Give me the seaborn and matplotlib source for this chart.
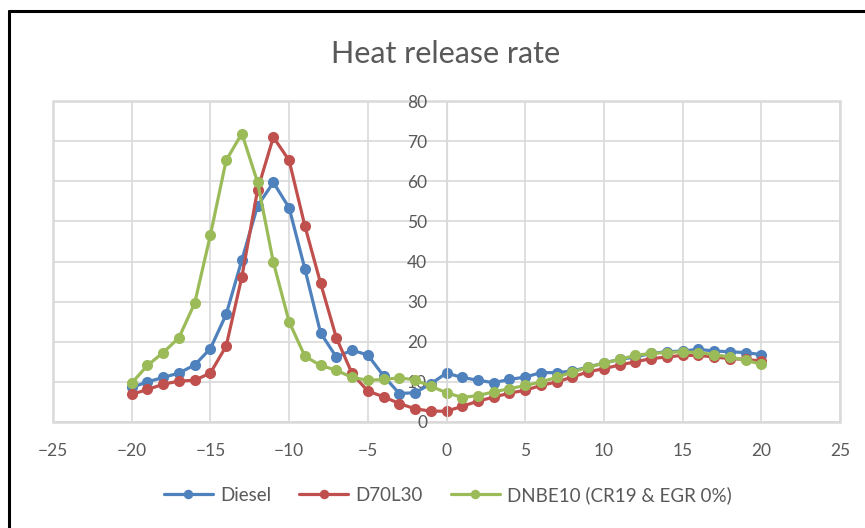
import pandas as pd
import seaborn as sns
import matplotlib.pyplot as plt
from matplotlib.patches import Rectangle
from matplotlib.lines import Line2D

# Crank angle positions (deg)
crank_angle = list(range(-20, 21))

# Heat release rate
diesel = [8.6, 10.0, 11.1, 12.2, 14.2, 18.3, 26.8, 40.4, 53.9, 59.7,
          53.4, 38.2, 22.2, 16.2, 17.9, 16.7, 11.5, 7.1, 7.3, 9.5,
          12.2, 11.1, 10.4, 9.8, 10.6, 11.2, 12.3, 12.3, 12.7, 13.7,
          14.7, 15.6, 16.2, 17.1, 17.5, 17.7, 18.1, 17.7, 17.5, 17.3, 16.8]
d70l30 = [6.9, 8.1, 9.4, 10.2, 10.4, 12.2, 18.9, 36.2, 57.9, 71.0,
          65.2, 48.9, 34.6, 21.0, 12.1, 7.7, 6.3, 4.6, 3.3, 2.7,
          2.7, 3.9, 5.2, 6.2, 7.2, 7.9, 9.1, 10.0, 11.2, 12.5,
          13.3, 14.2, 15.0, 15.8, 16.2, 16.6, 16.6, 16.2, 15.8, 15.6, 15.2]
dnbe10 = [9.7, 14.1, 17.3, 21.0, 29.6, 46.6, 65.2, 71.9, 59.7, 39.8,
          25.0, 16.4, 14.1, 12.9, 11.1, 10.4, 10.6, 11.0, 10.5, 8.9,
          7.3, 6.1, 6.6, 7.5, 8.3, 9.1, 10.0, 11.1, 12.5, 13.6,
          14.7, 15.6, 16.6, 17.1, 17.3, 17.5, 17.3, 16.8, 16.2, 15.4, 14.4]

series_names = ['Diesel', 'D70L30', 'DNBE10 (CR19 & EGR 0%)']
colors = ['#4F81BD', '#C0504D', '#9BBB59']

# Long-form table for seaborn
frames = []
for name, vals in zip(series_names, [diesel, d70l30, dnbe10]):
    frames.append(pd.DataFrame({'crank': crank_angle, 'hrr': vals, 'fuel': name}))
df = pd.concat(frames, ignore_index=True)

sns.set_style('white')
plt.rcParams['font.family'] = ['Lato', 'DejaVu Sans']
text_color = '#595959'
grid_color = '#D9D9D9'

fig = plt.figure(figsize=(8.65, 5.28), dpi=100)
ax = fig.add_axes([53 / 865, 1 - 422 / 528, (840 - 53) / 865, (422 - 101) / 528])

sns.lineplot(data=df, x='crank', y='hrr', hue='fuel', hue_order=series_names,
             palette=colors, marker='o', markersize=8, markeredgewidth=0,
             linewidth=2.3, ax=ax, legend=True)

ax.set_xlim(-25, 25)
ax.set_ylim(0, 80)
ax.set_xticks(range(-25, 26, 5))
ax.set_yticks(range(0, 81, 10))
ax.set_xlabel('')
ax.set_ylabel('')
ax.set_axisbelow(True)
ax.grid(True, color=grid_color, linewidth=1.2)

# Y axis crosses at x = 0, labels sit next to it
for side in ['top', 'right', 'bottom']:
    ax.spines[side].set_visible(False)
ax.spines['left'].set_position(('data', 0))
ax.spines['left'].set_color(grid_color)
ax.add_patch(Rectangle((0, 0), 1, 1, transform=ax.transAxes, fill=False,
                       ec=grid_color, lw=1.8, clip_on=False, zorder=0.5))

ax.tick_params(axis='x', length=0, pad=15, labelsize=12.5, labelcolor=text_color)
ax.tick_params(axis='y', length=0, pad=14, labelsize=12.5, labelcolor=text_color)

# Title
fig.text(446 / 865, 1 - 63 / 528, 'Heat release rate', ha='center', va='baseline',
         fontsize=22, color=text_color)

# Legend at the bottom
handles, labels = ax.get_legend_handles_labels()
ax.legend(handles, labels, loc='center', bbox_to_anchor=(448 / 865, 1 - 495 / 528),
          bbox_transform=fig.transFigure, ncol=3, frameon=False, fontsize=13.5,
          labelcolor=text_color, handlelength=2.6, columnspacing=1.5,
          handletextpad=0.4, markerscale=0.85)

# Dark border on top and left edges of the chart
fig.add_artist(Line2D([9 / 865, 9 / 865], [0, 1 - 11 / 528], color='black', lw=2.2))
fig.add_artist(Line2D([9 / 865, 1], [1 - 11 / 528, 1 - 11 / 528], color='black', lw=2.2))

plt.savefig('out.png', dpi=100)
